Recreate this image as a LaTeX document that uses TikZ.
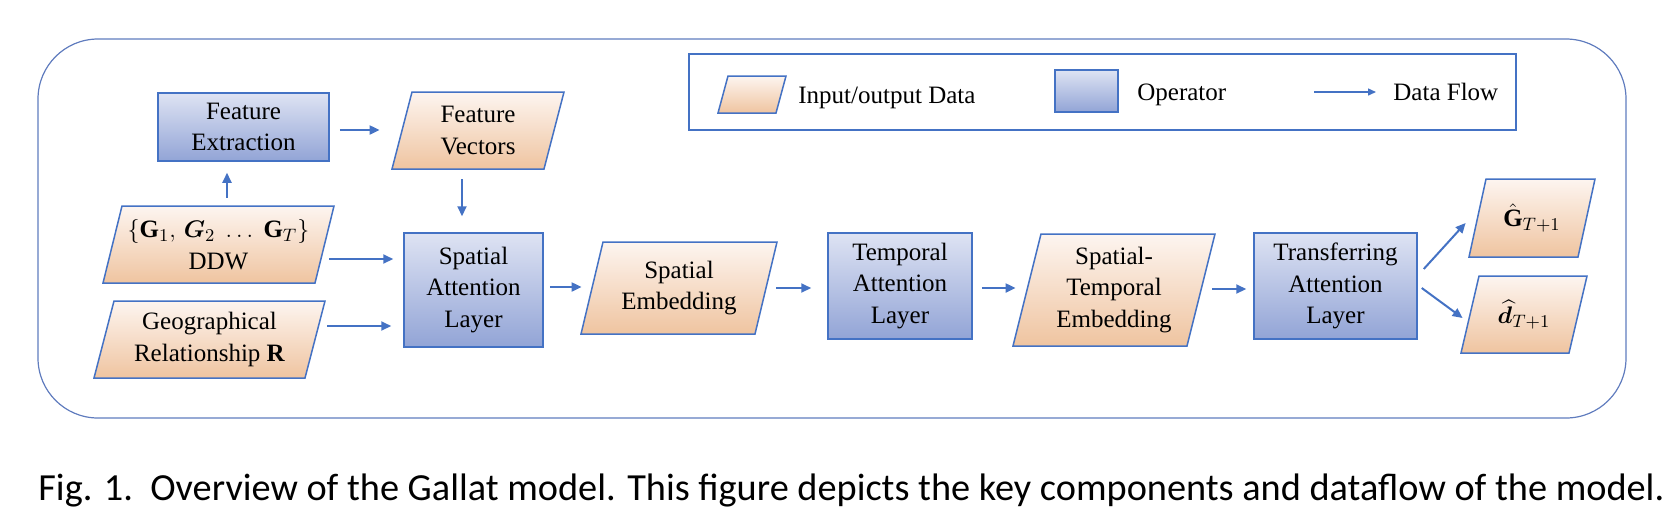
\documentclass[tikz,border=0pt]{standalone}
\usepackage{amsmath}
\usepackage{bm}
\usepackage{graphicx}
\usepackage{fontspec}
\setmainfont{Liberation Serif}
\newfontfamily\capfont{Carlito}
\usetikzlibrary{arrows.meta,calc}
\definecolor{bordblue}{RGB}{68,114,196}
\definecolor{frameblue}{RGB}{96,124,190}
\definecolor{opTop}{RGB}{222,227,243}
\definecolor{opBot}{RGB}{146,164,214}
\definecolor{dTop}{RGB}{253,245,240}
\definecolor{dBot}{RGB}{239,196,160}
\newcommand{\nodefont}{\fontsize{12.5}{15.7}\selectfont}
\tikzset{
  opbox/.style={draw=bordblue, line width=0.75pt, top color=opTop, bottom color=opBot,
    align=center, font=\nodefont, inner sep=0pt},
  datashape/.style={draw=bordblue, line width=0.75pt, top color=dTop, bottom color=dBot},
  datatext/.style={align=center, font=\nodefont, inner sep=0pt},
  legtext/.style={anchor=base west, font=\nodefont, inner sep=0pt},
  arr/.style={draw=bordblue, line width=1pt, -{Triangle[length=5pt,width=4.5pt]}},
  arrthin/.style={draw=bordblue, line width=0.7pt, -{Triangle[length=4pt,width=3.5pt]}},
}
% #1 name, #2 top-left x, #3 top-right x, #4 top y, #5 bottom y, #6 slant, #7 text
\newcommand{\dataBox}[7]{%
  \path[datashape] (#2,#4) -- (#3,#4) -- (#3-#6,#5) -- (#2-#6,#5) -- cycle;
  \node[datatext, minimum width={(#3-#2)*0.5pt}, minimum height={(#5-#4)*0.5pt}]
    (#1) at ({(#2+#3-#6)/2},{(#4+#5)/2}) {#7};}
\begin{document}
\begin{tikzpicture}[x=0.5pt,y=-0.5pt]
\useasboundingbox (0,0) rectangle (1670,526);
% outer frame
\draw[frameblue, line width=0.6pt, rounded corners=30pt] (38,39) rectangle (1626,418);
% legend
\draw[bordblue, line width=0.7pt] (689,54) rectangle (1516,130);
\dataBox{legdata}{728}{786}{76}{113}{10}{}
\node[legtext] (legdatatxt) at (798,103) {Input/output Data};
\node[opbox, minimum width=31.5pt, minimum height=21pt] (legop) at (1086.5,91) {};
\node[legtext] (legoptxt) at (1137,100) {Operator};
\coordinate (fl1) at (1314,92);
\coordinate (fl2) at (1376,92);
\draw[arrthin] (fl1) -- (fl2);
\node[legtext] (legflowtxt) at (1393,100) {Data Flow};
% operators
\node[opbox, minimum width=85.5pt, minimum height=34pt] (fe) at (243.5,127) {Feature\\Extraction};
\node[opbox, minimum width=69.5pt, minimum height=57pt] (sal) at (473.5,290) {Spatial\\Attention\\Layer};
\node[opbox, minimum width=72pt, minimum height=53pt] (tal) at (900,286) {Temporal\\Attention\\Layer};
\node[opbox, minimum width=81.5pt, minimum height=53pt] (tral) at (1335.5,286) {Transferring\\Attention\\Layer};
% data
\dataBox{fv}{412}{564}{92}{169}{20}{Feature\\Vectors}
\dataBox{ddw}{122}{334}{206}{283}{19}{$\{\mathbf{G}_1,\,\boldsymbol{G}_2\ \ldots\ \mathbf{G}_T\}$\\DDW}
\dataBox{geo}{114}{325}{301}{378}{20}{Geographical\\Relationship \textbf{R}}
\dataBox{se}{603}{777}{242}{334}{22}{Spatial\\Embedding}
\dataBox{ste}{1041}{1215}{234}{346}{28}{Spatial-\\Temporal\\Embedding}
\dataBox{gout}{1486}{1595}{179}{257}{17}{$\hat{\mathbf{G}}_{T+1}$}
\dataBox{dout}{1479}{1587}{276}{353}{18}{$\widehat{\boldsymbol{d}}_{T+1}$}
% connectors
\draw[arr] ($(fe.east)+(10,3)$) -- ($(fv.west)+(-22,-0.5)$);
\draw[arr] ($(fv.south)+(-16,10)$) -- ($(sal.north)+(-11.5,-16)$);
\draw[arr] ($(ddw.north)+(8.5,-8)$) -- ($(fe.south)+(-16.5,11)$);
\draw[arr] ($(ddw.east)+(4.5,14.5)$) -- ($(sal.west)+(-10,-31)$);
\draw[arr] ($(geo.east)+(12,-13.5)$) -- ($(sal.west)+(-12,36)$);
\draw[arr] ($(sal.east)+(6,-3)$) -- ($(se.west)+(-10,-1)$);
\draw[arr] ($(se.east)+(10,0)$) -- ($(tal.west)+(-16,2)$);
\draw[arr] ($(tal.east)+(9,2)$) -- ($(ste.west)+(-11,-2)$);
\draw[arr] ($(ste.east)+(11,-1)$) -- ($(tral.west)+(-7,3)$);
\draw[arr] ($(tral.east)+(6,-17)$) -- ($(gout.west)+(-11.5,5)$);
\draw[arr] ($(tral.east)+(4,2)$) -- ($(dout.west)+(-7,3.5)$);
% caption
\node[anchor=base west, inner sep=0pt] (cap) at (38,500)
  {\resizebox{813pt}{13.3pt}{\capfont Fig. 1.\ \ Overview of the Gallat model. This figure depicts the key components and dataflow of the model.}};
\end{tikzpicture}
\end{document}
